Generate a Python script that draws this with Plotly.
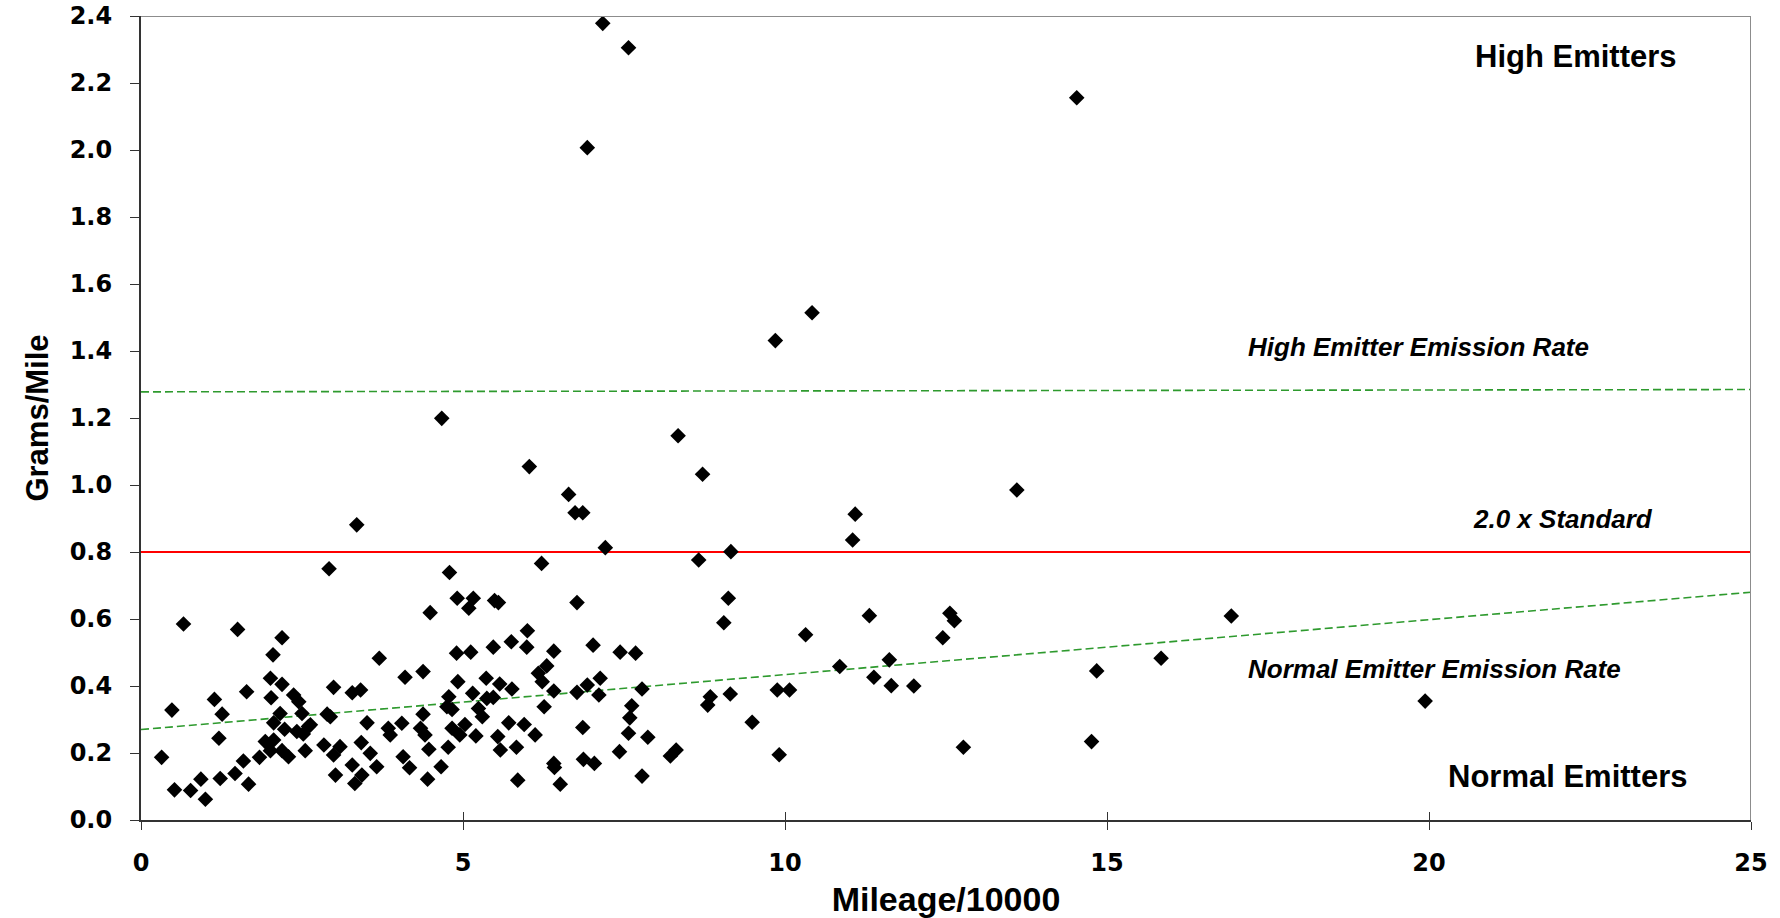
import plotly.graph_objects as go

# Scatter data (Mileage/10000, Grams/Mile)
mileage = [
    2.92, 0.66, 1.50, 2.19, 2.05, 3.70, 2.01, 2.19, 4.10, 2.99, 3.28, 3.41, 1.64, 1.14,
    0.48, 1.26, 2.02, 2.37, 2.45, 2.16, 2.50, 2.89, 2.94, 3.51, 2.06, 2.23, 1.21, 2.42,
    2.52, 2.60, 2.63, 3.84, 3.87, 4.05, 4.07, 4.17, 3.42, 3.56, 3.66, 3.09, 2.99, 2.84,
    3.28, 3.43, 3.32, 3.02, 2.55, 2.19, 2.29, 2.01, 1.93, 2.06, 1.84, 1.59, 1.46, 1.67,
    1.23, 0.93, 0.77, 0.52, 1.00, 0.32,
    4.79, 6.22, 8.66, 4.91, 5.16, 5.09, 5.49, 5.55, 6.77, 9.12, 9.05, 4.49, 6.00, 4.90,
    5.12, 5.47, 5.75, 5.99, 6.41, 7.02, 7.44, 7.68, 4.38, 6.30, 6.17, 6.23, 4.92, 5.36,
    5.57, 5.76, 5.15, 4.78, 6.41, 6.77, 6.93, 7.13, 7.11, 7.78, 5.37, 5.47, 5.24, 5.30,
    4.75, 4.83, 4.38, 6.26, 7.62, 7.59, 8.84, 8.80, 9.15, 9.49, 4.34, 4.41, 4.83, 4.95,
    5.03, 5.20, 5.54, 5.71, 5.95, 6.12, 6.86, 7.57, 7.87, 4.47, 4.77, 5.58, 5.83, 7.43,
    8.22, 8.31, 4.66, 6.41, 6.42, 6.87, 7.04, 4.45, 5.85, 6.51, 7.78,
    4.67, 3.35, 6.03, 6.64, 6.74, 6.86, 7.21, 8.34, 8.72, 9.16,
    7.17, 7.57, 6.93, 10.42, 9.85, 14.53,
    13.60, 11.09, 11.05, 11.31, 12.56, 12.63, 12.45, 10.32, 10.85, 11.62, 11.38, 11.65,
    12.00, 9.88, 10.07, 9.91, 12.77, 14.84, 14.76,
    16.93, 15.84, 19.94,
]
grams = [
    0.750, 0.585, 0.569, 0.544, 0.493, 0.483, 0.423, 0.405, 0.426, 0.396, 0.380, 0.388, 0.383, 0.360,
    0.328, 0.316, 0.365, 0.373, 0.353, 0.318, 0.318, 0.316, 0.308, 0.290, 0.290, 0.271, 0.244, 0.264,
    0.257, 0.279, 0.284, 0.274, 0.254, 0.289, 0.189, 0.156, 0.231, 0.199, 0.159, 0.219, 0.194, 0.224,
    0.164, 0.134, 0.109, 0.134, 0.207, 0.207, 0.189, 0.207, 0.234, 0.239, 0.187, 0.176, 0.139, 0.107,
    0.124, 0.122, 0.088, 0.090, 0.062, 0.187,
    0.739, 0.766, 0.776, 0.662, 0.662, 0.632, 0.655, 0.649, 0.649, 0.662, 0.589, 0.619, 0.565, 0.498,
    0.501, 0.516, 0.532, 0.516, 0.504, 0.522, 0.501, 0.498, 0.443, 0.460, 0.438, 0.413, 0.413, 0.423,
    0.406, 0.391, 0.378, 0.368, 0.385, 0.381, 0.403, 0.423, 0.373, 0.391, 0.363, 0.366, 0.333, 0.308,
    0.338, 0.330, 0.316, 0.338, 0.341, 0.305, 0.368, 0.343, 0.376, 0.292, 0.274, 0.254, 0.274, 0.254,
    0.285, 0.251, 0.249, 0.290, 0.285, 0.254, 0.276, 0.259, 0.247, 0.211, 0.217, 0.209, 0.217, 0.204,
    0.191, 0.209, 0.159, 0.169, 0.157, 0.181, 0.169, 0.122, 0.119, 0.107, 0.131,
    1.199, 0.881, 1.055, 0.972, 0.917, 0.917, 0.813, 1.147, 1.032, 0.801,
    2.378, 2.305, 2.007, 1.514, 1.431, 2.156,
    0.985, 0.913, 0.836, 0.610, 0.617, 0.595, 0.544, 0.553, 0.458, 0.478, 0.426, 0.401,
    0.400, 0.388, 0.388, 0.195, 0.217, 0.445, 0.234,
    0.609, 0.483, 0.355,
]

# Reference lines
line_x = [0, 25]
normal_rate = [0.27, 0.68]
high_rate = [1.278, 1.285]
standard = [0.8, 0.8]

x_ticks = [0, 5, 10, 15, 20, 25]
y_ticks = [0.0, 0.2, 0.4, 0.6, 0.8, 1.0, 1.2, 1.4, 1.6, 1.8, 2.0, 2.2, 2.4]

green = "#2E9A2E"
fig = go.Figure()
fig.add_trace(go.Scatter(x=line_x, y=normal_rate, mode="lines",
                         line=dict(color=green, width=1.6, dash="8px,4px"),
                         name="Normal Emitter Emission Rate", hoverinfo="skip"))
fig.add_trace(go.Scatter(x=line_x, y=high_rate, mode="lines",
                         line=dict(color=green, width=1.6, dash="8px,4px"),
                         name="High Emitter Emission Rate", hoverinfo="skip"))
fig.add_trace(go.Scatter(x=line_x, y=standard, mode="lines",
                         line=dict(color="#FF0000", width=2.2),
                         name="2.0 x Standard", hoverinfo="skip"))
fig.add_trace(go.Scatter(x=mileage, y=grams, mode="markers",
                         marker=dict(symbol="diamond", size=12, color="black",
                                     line=dict(width=0)),
                         name="Vehicles"))
# invisible trace on secondary x axis for inside half of cross ticks
fig.add_trace(go.Scatter(x=[None], y=[None], xaxis="x2", showlegend=False,
                         hoverinfo="skip"))

tickfont = dict(family="DejaVu Sans", size=24, color="black", weight="bold")
fig.update_layout(
    width=1780, height=918,
    margin=dict(l=141, r=29, t=16, b=98, autoexpand=False),
    paper_bgcolor="white", plot_bgcolor="white",
    showlegend=False,
    font=dict(family="Liberation Sans, Arial", color="black"),
    xaxis=dict(range=[0, 25], tickvals=x_ticks, ticks="outside", ticklen=8,
               tickwidth=1.2, tickcolor="#333", showgrid=False, zeroline=False,
               showline=True, linecolor="#333", linewidth=2, automargin=False,
               tickfont=tickfont, ticklabelstandoff=12,
               title=dict(text="<b>Mileage/10000</b>",
                          font=dict(family="Liberation Sans", size=34),
                          standoff=14)),
    xaxis2=dict(range=[0, 25], tickvals=x_ticks, ticks="inside", ticklen=8,
                tickwidth=1.2, tickcolor="#333", showticklabels=False,
                showgrid=False, zeroline=False, overlaying="x", side="bottom",
                anchor="y", showline=False, automargin=False),
    yaxis=dict(range=[0, 2.4], tickvals=y_ticks, tickformat=".1f", ticks="outside",
               ticklen=9, tickwidth=1.2, tickcolor="#333", showgrid=False,
               zeroline=False, showline=True, linecolor="#333", linewidth=2,
               automargin=False, tickfont=tickfont, ticklabelstandoff=13,
               title=dict(text="<b>Grams/Mile</b>",
                          font=dict(family="Liberation Sans", size=31),
                          standoff=12)),
    shapes=[
        dict(type="line", xref="x", yref="y", x0=0, x1=25, y0=2.4, y1=2.4,
             line=dict(color="#8C8C8C", width=2)),
        dict(type="line", xref="x", yref="y", x0=25, x1=25, y0=0, y1=2.4,
             line=dict(color="#8C8C8C", width=2)),
    ],
    annotations=[
        dict(x=22.28, y=2.278, text="<b>High Emitters</b>", showarrow=False,
             font=dict(family="Liberation Sans", size=31)),
        dict(x=19.83, y=1.411, text="<b><i>High Emitter Emission Rate</i></b>",
             showarrow=False, font=dict(family="Liberation Sans", size=26)),
        dict(x=22.08, y=0.899, text="<b><i>2.0 x Standard</i></b>",
             showarrow=False, font=dict(family="Liberation Sans", size=26)),
        dict(x=20.08, y=0.452, text="<b><i>Normal Emitter Emission Rate</i></b>",
             showarrow=False, font=dict(family="Liberation Sans", size=26)),
        dict(x=22.15, y=0.130, text="<b>Normal Emitters</b>", showarrow=False,
             font=dict(family="Liberation Sans", size=31)),
    ],
)

fig.write_html("out.html")
